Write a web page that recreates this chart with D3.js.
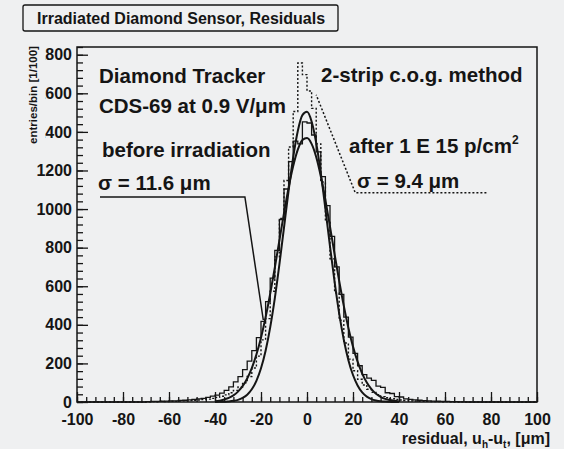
<!DOCTYPE html>
<html>
<head>
<meta charset="utf-8">
<script src="https://cdn.jsdelivr.net/npm/d3@7"></script>
<style>
  body { margin: 0; background: #eff0f1; }
  svg { display: block; font-family: "Liberation Sans", Arial, sans-serif; font-weight: bold; }
</style>
</head>
<body>
<div id="chart"></div>
<script>
// histogram bins: 2 um wide, first bin starts at -70 um
const binStart = -70;
const binWidth = 2;

// before irradiation (solid histogram), bin centres -69 ... 69
const beforeCounts = [
  2, 3, 3, 4, 5, 6, 6, 8, 9, 11,
  13, 16, 19, 24, 30, 36, 46, 60, 78, 104,
  132, 168, 212, 266, 334, 418, 520, 642, 786, 946,
  1104, 1246, 1352, 1338, 1452, 1446, 1384, 1296, 1168, 1018,
  858, 700, 558, 440, 336, 252, 188, 142, 124, 112,
  82, 76, 48, 44, 28, 26, 16, 14, 11, 9,
  7, 6, 5, 4, 3, 3, 2, 2, 1, 1
];

// after 1E15 p/cm2 (dashed histogram), bin centres -69 ... 69
const afterCounts = [
  1, 2, 1, 3, 2, 4, 3, 5, 6, 7,
  9, 10, 13, 15, 19, 24, 30, 37, 48, 60,
  78, 100, 132, 176, 238, 322, 432, 574, 752, 952,
  1148, 1322, 1506, 1757, 1697, 1612, 1522, 1338, 1140, 934,
  742, 566, 424, 306, 222, 162, 118, 88, 66, 50,
  38, 28, 22, 17, 13, 10, 8, 6, 5, 4,
  4, 3, 2, 2, 1, 2, 1, 0, 1, 0
];

// gaussian fit curves
const fitX = [-40, -38, -36, -34, -32, -30, -28, -26, -24, -22, -20, -18, -16, -14, -12, -10, -8, -6, -4, -2,
  0, 2, 4, 6, 8, 10, 12, 14, 16, 18, 20, 22, 24, 26, 28, 30, 32, 34, 36, 38, 40];
const fitBefore = [4, 7, 13, 21, 34, 54, 82, 122, 176, 246, 333, 439, 561, 696, 838, 979, 1111, 1223, 1308, 1358,
  1368, 1338, 1270, 1170, 1047, 909, 766, 627, 498, 384, 287, 209, 147, 101, 67, 43, 27, 16, 10, 6, 3];
const fitAfter = [0, 1, 1, 3, 6, 11, 21, 38, 66, 110, 175, 266, 387, 537, 713, 904, 1095, 1269, 1405, 1487,
  1504, 1454, 1343, 1186, 1001, 807, 622, 458, 323, 217, 140, 86, 50, 28, 15, 8, 4, 2, 1, 0, 0];

const xTicks = [-100, -80, -60, -40, -20, 0, 20, 40, 60, 80, 100];
const yTicks = [0, 200, 400, 600, 800, 1000, 1200, 1400, 1600, 1800];

// leader lines under the sigma labels (residual, entries)
const beforeLeader = [[-90, 1063], [-27, 1063], [-19, 425]];
const afterLeader = [[78, 1084], [21, 1084], [4, 1592]];

const width = 564, height = 449;
const bg = '#eff0f1';
const ink = '#151515';

const svg = d3.select('#chart').append('svg')
  .attr('width', width)
  .attr('height', height);

const x = d3.scaleLinear().domain([-100, 100]).range([77, 537]);
const y = d3.scaleLinear().domain([0, 1840]).range([402, 47]);

// title box
svg.append('rect')
  .attr('x', 23).attr('y', 5).attr('width', 315).attr('height', 26).attr('rx', 2)
  .attr('fill', 'none').attr('stroke', ink).attr('stroke-width', 1.3);
svg.append('text')
  .attr('x', 37).attr('y', 24)
  .attr('font-size', 16)
  .attr('fill', ink)
  .text('Irradiated Diamond Sensor, Residuals');

// axes
const plain = d => String(d);
const yAxis = d3.axisLeft(y).tickValues(yTicks).tickSizeInner(-11).tickSizeOuter(0).tickPadding(5).tickFormat(plain);
const yMinor = d3.axisLeft(y).tickValues(d3.range(0, 1841, 40)).tickSizeInner(-6).tickSizeOuter(0).tickFormat('');
const xAxis = d3.axisBottom(x).tickValues(xTicks).tickSizeInner(-10).tickSizeOuter(0).tickPadding(12).tickFormat(plain);
const xMinor = d3.axisBottom(x).tickValues(d3.range(-100, 101, 4)).tickSizeInner(-5).tickSizeOuter(0).tickFormat('');

function styleAxis(g) {
  g.select('.domain').remove();
  g.selectAll('line').attr('stroke', ink).attr('stroke-width', 1.3);
  g.selectAll('text').attr('fill', ink).attr('font-size', 16)
    .attr('font-family', '"Liberation Sans", Arial, sans-serif').attr('font-weight', 'bold');
}

svg.append('g').attr('transform', 'translate(77,0)').call(yMinor).call(styleAxis);
svg.append('g').attr('transform', 'translate(77,0)').call(yAxis).call(styleAxis);
svg.append('g').attr('transform', 'translate(0,402)').call(xMinor).call(styleAxis);
svg.append('g').attr('transform', 'translate(0,402)').call(xAxis).call(styleAxis);

// frame
svg.append('rect')
  .attr('x', x(-100)).attr('y', y(1840))
  .attr('width', x(100) - x(-100)).attr('height', y(0) - y(1840))
  .attr('fill', 'none').attr('stroke', ink).attr('stroke-width', 1.5);

// y axis title, it sits over the leading digits of the upper labels
svg.append('rect')
  .attr('x', 25).attr('y', 46).attr('width', 20).attr('height', 98)
  .attr('fill', bg);
svg.append('text')
  .attr('transform', 'translate(37,95) rotate(-90)')
  .attr('text-anchor', 'middle')
  .attr('font-size', 11.5)
  .attr('fill', ink)
  .text('entries/bin [1/100]');

// x axis title
const xt = svg.append('text')
  .attr('x', 550).attr('y', 444)
  .attr('text-anchor', 'end')
  .attr('font-size', 16)
  .attr('fill', ink);
xt.append('tspan').text('residual, u');
xt.append('tspan').attr('font-size', 10).attr('dy', 4).text('h');
xt.append('tspan').attr('dy', -4).text('-u');
xt.append('tspan').attr('font-size', 10).attr('dy', 4).text('t');
xt.append('tspan').attr('dy', -4).text(', [μm]');

// histograms
const histLine = d3.line()
  .x(d => x(d[0]))
  .y(d => y(d[1]))
  .curve(d3.curveStepAfter);

function histPoints(counts) {
  const pts = [[-100, 0]];
  counts.forEach((c, i) => pts.push([binStart + i * binWidth, c]));
  pts.push([binStart + counts.length * binWidth, 0]);
  pts.push([100, 0]);
  return pts;
}

svg.append('path')
  .attr('d', histLine(histPoints(beforeCounts)))
  .attr('fill', 'none').attr('stroke', ink).attr('stroke-width', 1.3);

svg.append('path')
  .attr('d', histLine(histPoints(afterCounts)))
  .attr('fill', 'none').attr('stroke', ink).attr('stroke-width', 1.4)
  .attr('stroke-dasharray', '2,2');

// fits
const fitLine = d3.line()
  .x(d => x(d[0]))
  .y(d => y(d[1]))
  .curve(d3.curveMonotoneX);

[fitBefore, fitAfter].forEach(vals => {
  svg.append('path')
    .attr('d', fitLine(fitX.map((v, i) => [v, vals[i]])))
    .attr('fill', 'none').attr('stroke', ink).attr('stroke-width', 2);
});

// leader lines
const leader = d3.line().x(d => x(d[0])).y(d => y(d[1]));
svg.append('path')
  .attr('d', leader(beforeLeader))
  .attr('fill', 'none').attr('stroke', ink).attr('stroke-width', 1.5);
svg.append('path')
  .attr('d', leader(afterLeader))
  .attr('fill', 'none').attr('stroke', ink).attr('stroke-width', 1.5)
  .attr('stroke-dasharray', '2,2');

// labels
const notes = [
  { t: 'Diamond Tracker', x: 99, y: 83 },
  { t: 'CDS-69 at 0.9 V/μm', x: 99, y: 113 },
  { t: 'before irradiation', x: 102, y: 157 },
  { t: 'σ = 11.6 μm', x: 98, y: 190 },
  { t: '2-strip c.o.g. method', x: 321, y: 82 },
  { t: 'σ = 9.4 μm', x: 357, y: 188 }
];
notes.forEach(n => {
  svg.append('text')
    .attr('x', n.x).attr('y', n.y)
    .attr('font-size', 20.5)
    .attr('fill', ink)
    .text(n.t);
});

const after = svg.append('text')
  .attr('x', 349).attr('y', 153)
  .attr('font-size', 20.5)
  .attr('fill', ink);
after.append('tspan').text('after 1 E 15 p/cm');
after.append('tspan').attr('font-size', 12).attr('dy', -9).text('2');
</script>
</body>
</html>
